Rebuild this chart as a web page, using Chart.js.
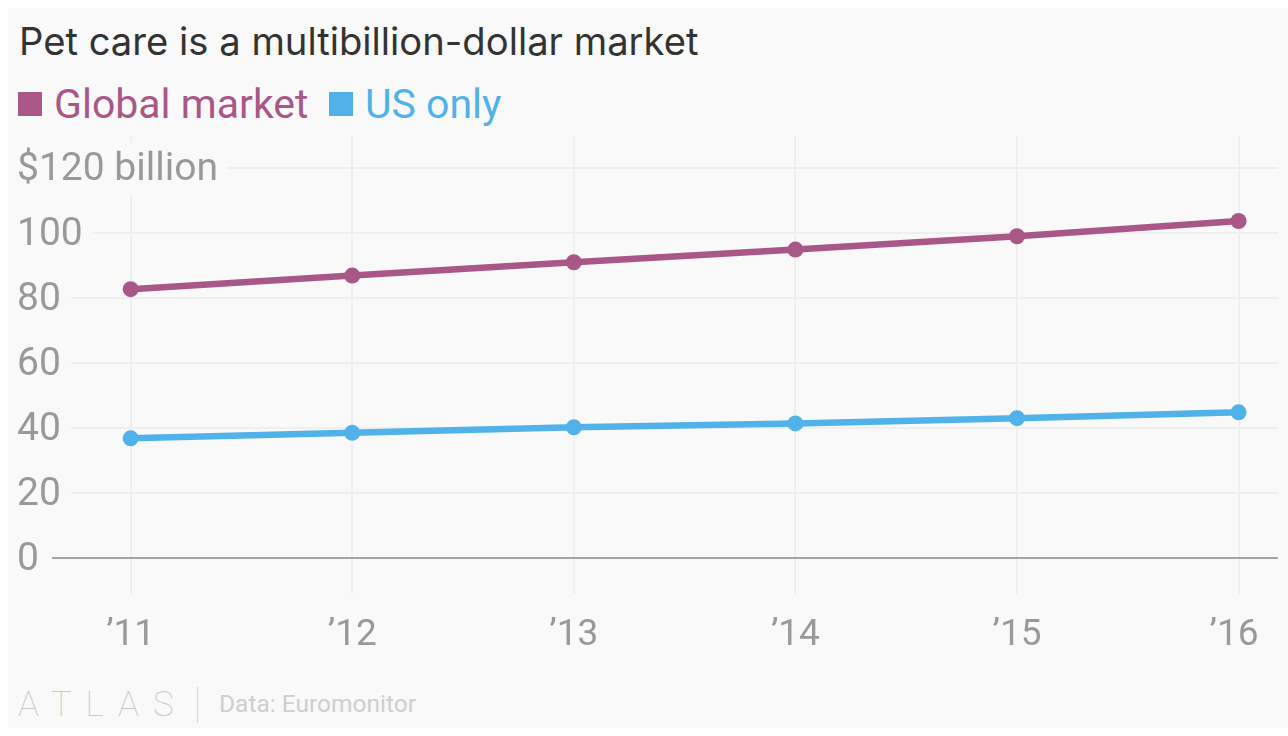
<!DOCTYPE html>
<html><head><meta charset="utf-8">
<style>
html,body{margin:0;padding:0;background:#fff;width:1288px;height:736px;overflow:hidden}
#panel{position:absolute;left:8px;top:8px;width:1280px;height:720px;background:#f9f9f9}
canvas{position:absolute;left:0;top:0}
.t{position:absolute;white-space:nowrap;line-height:1}
#title{left:19px;top:18px;font:400 38.2px Inter,sans-serif;color:#333}
.sw{position:absolute;width:24px;height:24px;top:92px}
.lg{top:80px;font:400 41px Roboto,sans-serif}
#brand{left:18px;top:684px;font:100 35px Roboto,sans-serif;color:#c8c8c8;letter-spacing:14px}
#sep{position:absolute;left:197px;top:687px;width:1px;height:36px;background:#d4d4d4}
#src{left:219px;top:689px;font:400 24.5px Roboto,sans-serif;color:#cfcfcf}
</style></head><body>
<div id="panel"></div>
<div id="title" class="t">Pet care is a multibillion-dollar market</div>
<div id="legend"></div>
<div id="brand" class="t">ATLAS</div><div id="sep"></div>
<div id="src" class="t">Data: Euromonitor</div>
<canvas id="c" width="1288" height="736"></canvas>
<script src="https://cdn.jsdelivr.net/npm/chart.js@4/dist/chart.umd.js"></script>
<script>
const years=[2011,2012,2013,2014,2015,2016];
const yearLabels=['’11','’12','’13','’14','’15','’16\u00a0'];
const globalMarket=[82.6,86.8,90.9,94.8,98.9,103.6];
const usOnly=[36.7,38.4,40.1,41.3,42.9,44.7];
const yTicks=[0,20,40,60,80,100,120];
const seriesNames=['Global market','US only'];
const seriesColors=['#a95787','#50b2e8'];
const legendSwatchX=[18,329], legendTextX=[54,365];

const lg=document.getElementById('legend');
seriesNames.forEach((n,i)=>{
  const s=document.createElement('div');s.className='sw';s.style.left=legendSwatchX[i]+'px';s.style.background=seriesColors[i];lg.appendChild(s);
  const t=document.createElement('div');t.className='t lg';t.style.left=legendTextX[i]+'px';t.style.color=seriesColors[i];t.textContent=n;lg.appendChild(t);
});
const ds=(vals,i)=>({label:seriesNames[i],data:vals.map((v,k)=>({x:years[k],y:v})),borderColor:seriesColors[i],backgroundColor:seriesColors[i],
  borderWidth:6.5,pointRadius:8,pointBorderWidth:0,pointBackgroundColor:seriesColors[i],tension:0,clip:false});
new Chart(document.getElementById('c'),{type:'line',
 data:{datasets:[ds(globalMarket,0),ds(usOnly,1)]},
 options:{responsive:false,animation:false,devicePixelRatio:1,
  layout:{padding:{left:18,right:10,top:136,bottom:0}},
  plugins:{legend:{display:false},title:{display:false},tooltip:{enabled:false}},
  scales:{
   x:{type:'linear',min:2010.645,max:2016.177,
    afterBuildTicks:a=>{a.ticks=years.map(v=>({value:v}))},
    afterFit:a=>{a.height=142},
    border:{display:false},
    grid:{color:'#efefef',lineWidth:2,drawTicks:false},
    ticks:{autoSkip:false,maxRotation:0,padding:20,color:'#999',font:{family:'Roboto',size:37},callback:v=>yearLabels[years.indexOf(v)]}},
   y:{type:'linear',min:-11.2,max:129.75,
    afterBuildTicks:a=>{a.ticks=yTicks.map(v=>({value:v}))},
    afterFit:a=>{a.width=34},
    border:{display:false},
    grid:{color:c=>c.tick&&c.tick.value===0?'#a3a3a3':'#efefef',lineWidth:2,drawTicks:false},
    ticks:{autoSkip:false,mirror:true,padding:-35,color:'#999',font:{family:'Roboto',size:39,lineHeight:'6px'},
     showLabelBackdrop:true,backdropColor:'#f9f9f9',backdropPadding:{left:0,right:10,top:16,bottom:24},
     callback:v=>['',v===120?'$120 billion':String(v)]}}
  }}});
</script></body></html>
